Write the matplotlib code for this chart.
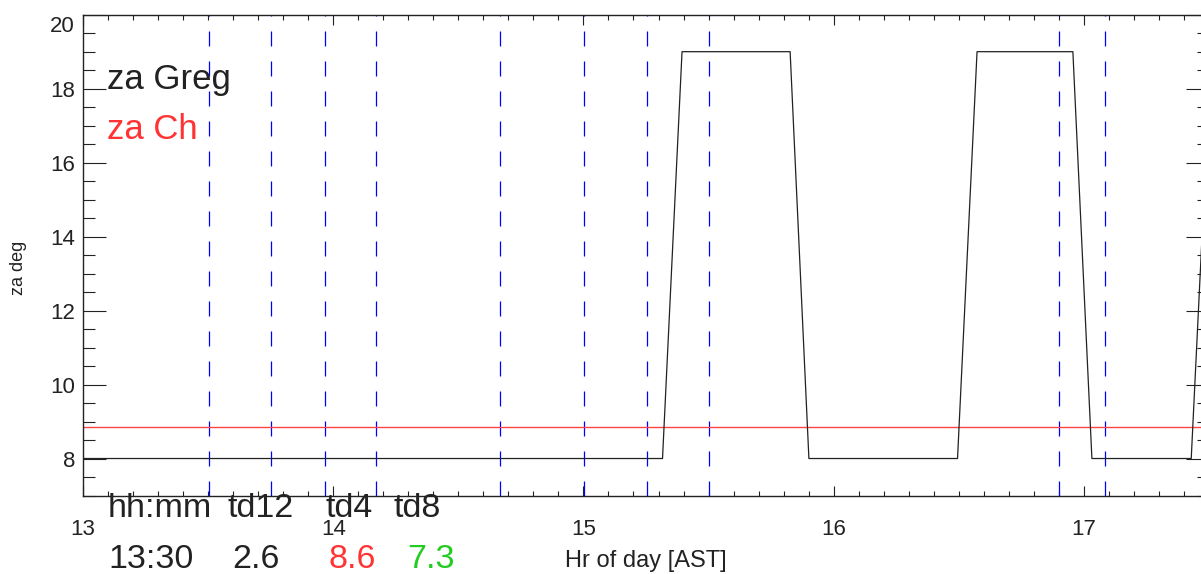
import matplotlib
matplotlib.use("Agg")
import matplotlib.pyplot as plt
from matplotlib.ticker import MultipleLocator, FuncFormatter

plt.rcParams['font.family'] = ['Liberation Sans', 'DejaVu Sans']
plt.rcParams['lines.scale_dashes'] = False

# telescope za vs hour of day (AST)
hr_greg = [13.0, 15.316, 15.394, 15.826, 15.901, 16.495, 16.573, 16.956, 17.032, 17.429, 17.508]
za_greg = [8, 8, 19, 19, 8, 8, 19, 19, 8, 8, 19]
za_ch = 8.85

# marker times (dashed lines)
mark_hr = [13.502, 13.752, 13.969, 14.169, 14.668, 15.001, 15.252, 15.500, 16.902, 17.084]

# annotation rows
hdr_text = ["hh:mm", "td12", "td4", "td8"]
hdr_x = [108, 228, 325, 393]
val_text = ["13:30", "2.6", "8.6", "7.3"]
val_x = [108, 232, 329, 407]
val_col = ["#222222", "#222222", "#ff3333", "#22cc22"]

W, H = 1201, 574
fig = plt.figure(figsize=(W / 100, H / 100), dpi=100)
ax = fig.add_axes([83 / W, 1 - 495.5 / H, 1126 / W, (495.5 - 14.7) / H])

for t in mark_hr:
    ax.axvline(t, color='#0000ff', lw=0.9, dashes=(10.8, 10.8))
ax.axhline(za_ch, color='#ff4444', lw=1.0)
ax.plot(hr_greg, za_greg, color='#222222', lw=0.9)

ax.set_xlim(13, 17.5)
ax.set_ylim(7, 20)
ax.xaxis.set_major_locator(MultipleLocator(1))
ax.xaxis.set_minor_locator(MultipleLocator(0.1))
ax.yaxis.set_major_locator(MultipleLocator(2))
ax.yaxis.set_minor_locator(MultipleLocator(0.5))
# top label "20" sits a bit lower in the original, drawn separately below
ax.yaxis.set_major_formatter(FuncFormatter(lambda v, p: '' if v >= 20 else '%d' % v))

ax.tick_params(axis='x', which='both', direction='in', top=True, bottom=True,
               labelsize=16, pad=17, width=0.8, colors='#222222')
ax.tick_params(axis='x', which='major', length=7.2)
ax.tick_params(axis='x', which='minor', length=3.6)
ax.tick_params(axis='y', which='both', direction='in', left=True, right=True,
               labelsize=16, pad=5.8, width=0.8, colors='#222222')
ax.tick_params(axis='y', which='major', length=16.6)
ax.tick_params(axis='y', which='minor', length=8.6)
for s in ax.spines.values():
    s.set_linewidth(1.0)
    s.set_color('#222222')

fig.text(75 / W, 1 - 27 / H, "20", ha='right', va='center', fontsize=16, color='#222222')

ax.set_xlabel("Hr of day [AST]", fontsize=17, color='#222222', labelpad=7)
fig.text(18.5 / W, 1 - 268 / H, "za deg", rotation=90, ha='center', va='center',
         fontsize=13, color='#222222')

fig.text(107 / W, 1 - 89 / H, "za Greg", fontsize=25, color='#222222', va='baseline')
fig.text(107 / W, 1 - 139 / H, "za Ch", fontsize=25, color='#ff3333', va='baseline')

for s, x in zip(hdr_text, hdr_x):
    fig.text(x / W, 1 - 517 / H, s, fontsize=24.5, color='#222222', va='baseline')
for s, x, c in zip(val_text, val_x, val_col):
    fig.text(x / W, 1 - 567.5 / H, s, fontsize=24.5, color=c, va='baseline')

fig.savefig("out.png", dpi=100)
